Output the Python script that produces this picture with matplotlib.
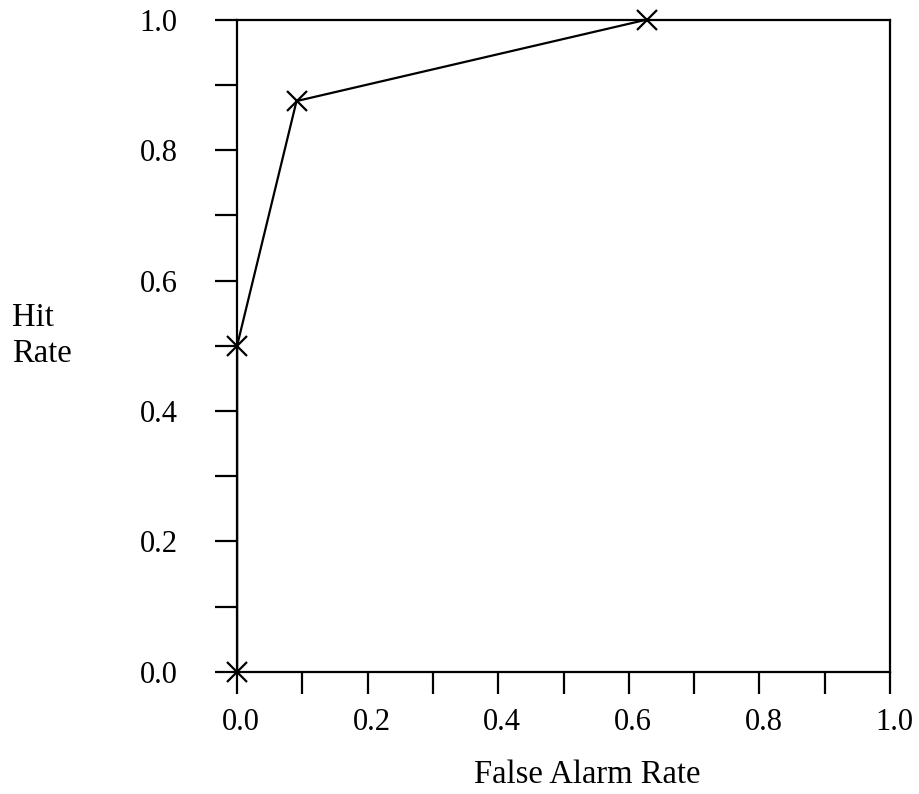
import matplotlib
matplotlib.use("Agg")
import matplotlib.pyplot as plt
import matplotlib.transforms as mtransforms

false_alarm = [0.0, 0.0, 0.091, 0.628]
hit_rate = [0.0, 0.5, 0.875, 1.0]
major_ticks = [0.0, 0.2, 0.4, 0.6, 0.8, 1.0]
minor_ticks = [0.1, 0.3, 0.5, 0.7, 0.9]

plt.rcParams['font.family'] = ['Liberation Serif', 'DejaVu Serif']
plt.rcParams['font.size'] = 22

fig = plt.figure(figsize=(9.19, 7.94), dpi=100)
ax = fig.add_axes([0.258, 0.1537, 0.7105, 0.8217])

ax.plot(false_alarm, hit_rate, color='black', lw=1.6, marker='x',
        markersize=14, markeredgewidth=1.6, clip_on=False, zorder=5)

ax.set_xlim(0, 1)
ax.set_ylim(0, 1)
ax.set_xticks(major_ticks)
ax.set_yticks(major_ticks)
ax.set_xticks(minor_ticks, minor=True)
ax.set_yticks(minor_ticks, minor=True)
ax.xaxis.set_major_formatter(plt.FormatStrFormatter('%.1f'))
ax.yaxis.set_major_formatter(plt.FormatStrFormatter('%.1f'))

for s in ax.spines.values():
    s.set_linewidth(1.6)
ax.tick_params(which='both', direction='out', length=16, width=1.6)
ax.tick_params(axis='x', which='major', pad=10)
ax.tick_params(axis='y', which='major', pad=27)

# x tick labels sit a little right of their ticks in the original
shift = mtransforms.ScaledTranslation(4 / 100, 0, fig.dpi_scale_trans)
for lab in ax.get_xticklabels():
    lab.set_transform(lab.get_transform() + shift)

fig.text(587 / 919, 1 - 783 / 794, 'False Alarm Rate', ha='center',
         va='baseline', fontsize=23.5)
fig.text(12 / 919, 1 - 326 / 794, 'Hit', ha='left', va='baseline',
         fontsize=23.5)
fig.text(12 / 919, 1 - 362 / 794, 'Rate', ha='left', va='baseline',
         fontsize=23.5)

fig.savefig('out.png', dpi=100)
